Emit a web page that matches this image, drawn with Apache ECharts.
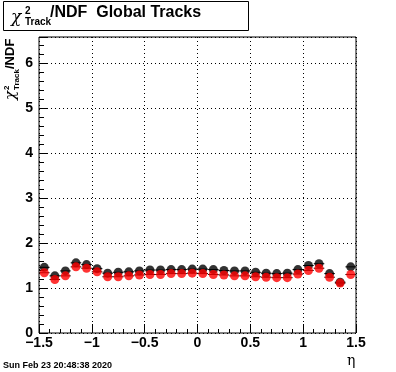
<!DOCTYPE html>
<html><head><meta charset="utf-8">
<script src="https://cdn.jsdelivr.net/npm/echarts@6/dist/echarts.min.js"></script>
<style>html,body{margin:0;padding:0;background:#fff}#c{width:396px;height:372px}</style>
</head><body><div id="c"></div>
<script>
var binCenters = [-1.45,-1.35,-1.25,-1.15,-1.05,-0.95,-0.85,-0.75,-0.65,-0.55,-0.45,-0.35,-0.25,-0.15,-0.05,0.05,0.15,0.25,0.35,0.45,0.55,0.65,0.75,0.85,0.95,1.05,1.15,1.25,1.35,1.45];
var blackValues = [1.46,1.27,1.38,1.56,1.52,1.43,1.33,1.35,1.36,1.38,1.40,1.40,1.41,1.41,1.42,1.42,1.41,1.39,1.38,1.38,1.35,1.33,1.32,1.33,1.41,1.50,1.54,1.32,1.13,1.47];
var redValues = [1.34,1.19,1.27,1.47,1.44,1.36,1.25,1.25,1.27,1.29,1.30,1.30,1.32,1.32,1.33,1.32,1.30,1.29,1.27,1.27,1.25,1.24,1.23,1.23,1.31,1.39,1.44,1.24,1.11,1.30];
var binHalfWidth = 0.05;
var xTicks = [-1.5,-1,-0.5,0,0.5,1,1.5];
var yTicks = [0,1,2,3,4,5,6];

var chart = echarts.init(document.getElementById('c'), null, {renderer:'canvas'});
var font = 'Liberation Sans, Arial, Helvetica, sans-serif';
function pts(vals){ return binCenters.map(function(x,i){return [x, vals[i]];}); }
function errSeries(vals, color){
  return {
    type:'custom', z:2, silent:true,
    data: pts(vals),
    renderItem: function(params, api){
      var x = api.value(0), y = api.value(1);
      var p1 = api.coord([x-binHalfWidth, y]);
      var p2 = api.coord([x+binHalfWidth, y]);
      return {type:'line', shape:{x1:p1[0], y1:p1[1], x2:p2[0], y2:p2[1]}, style:{stroke:color, lineWidth:1}};
    }
  };
}
var option = {
  animation:false,
  grid:{left:39, right:40, top:37, bottom:39, show:true, borderColor:'#000', borderWidth:1, backgroundColor:'transparent'},
  xAxis:{
    type:'value', min:-1.5, max:1.5, interval:0.5,
    axisLine:{show:false, onZero:false},
    axisTick:{show:true, inside:true, length:9, lineStyle:{color:'#000'}},
    minorTick:{show:true, splitNumber:5, length:4, lineStyle:{color:'#000'}},
    splitLine:{show:true, lineStyle:{color:'#000', type:[1,3], width:1}},
    axisLabel:{color:'#000', fontFamily:font, fontWeight:'bold', fontSize:14, margin:3,
      formatter:function(v){ return xTicks.indexOf(v)>=0 ? String(v).replace('-','\u2212') : ''; }}
  },
  yAxis:{
    type:'value', min:0, max:6.58, interval:1,
    axisLine:{show:false, onZero:false},
    axisTick:{show:true, inside:true, length:9, lineStyle:{color:'#000'}},
    minorTick:{show:true, splitNumber:5, length:5, lineStyle:{color:'#000'}},
    splitLine:{show:true, lineStyle:{color:'#000', type:[1,3], width:1}},
    axisLabel:{color:'#000', fontFamily:font, fontWeight:'bold', fontSize:14, margin:6, showMaxLabel:false,
      formatter:function(v){ return yTicks.indexOf(v)>=0 ? String(v) : ''; }}
  },
  series:[
    errSeries(blackValues,'#000'),
    {type:'scatter', z:3, data:pts(blackValues), symbol:'circle', symbolSize:9, itemStyle:{color:'#000'}},
    errSeries(redValues,'#000'),
    {type:'scatter', z:4, data:pts(redValues), symbol:'circle', symbolSize:9, itemStyle:{color:'#ff0000'}}
  ],
  graphic:[
    {type:'rect', left:3, top:1, shape:{width:245, height:29}, style:{fill:'#fff', stroke:'#000', lineWidth:1}, z:10},
    {type:'text', left:11, top:9, z:11, style:{text:'\u03c7', font:'italic 17px "DejaVu Serif", serif', fill:'#000'}},
    {type:'text', left:25, top:6, z:11, style:{text:'2', font:'bold 10px '+font, fill:'#000'}},
    {type:'text', left:25, top:17, z:11, style:{text:'Track', font:'bold 10px '+font, fill:'#000'}},
    {type:'text', left:50, top:5, z:11, style:{text:'/NDF  Global Tracks', font:'bold 16px '+font, fill:'#000'}},
    {type:'group', x:4, y:100, rotation:Math.PI/2, z:11, children:[
      {type:'text', x:0, y:0, style:{text:'\u03c7', font:'italic 15px "DejaVu Serif", serif', fill:'#000', verticalAlign:'top'}},
      {type:'text', x:10, y:-1, style:{text:'2', font:'bold 8px '+font, fill:'#000', verticalAlign:'top'}},
      {type:'text', x:10, y:9, style:{text:'Track', font:'bold 8px '+font, fill:'#000', verticalAlign:'top'}},
      {type:'text', x:31, y:0, style:{text:'/NDF', font:'bold 13px '+font, fill:'#000', verticalAlign:'top'}}
    ]},
    {type:'text', left:3, top:361, z:11, style:{text:'Sun Feb 23 20:48:38 2020', font:'bold 9px '+font, fill:'#000'}},
    {type:'text', left:347, top:354, z:11, style:{text:'\u03b7', font:'14px "DejaVu Serif", serif', fill:'#000'}}
  ]
};
chart.setOption(option);
</script></body></html>
